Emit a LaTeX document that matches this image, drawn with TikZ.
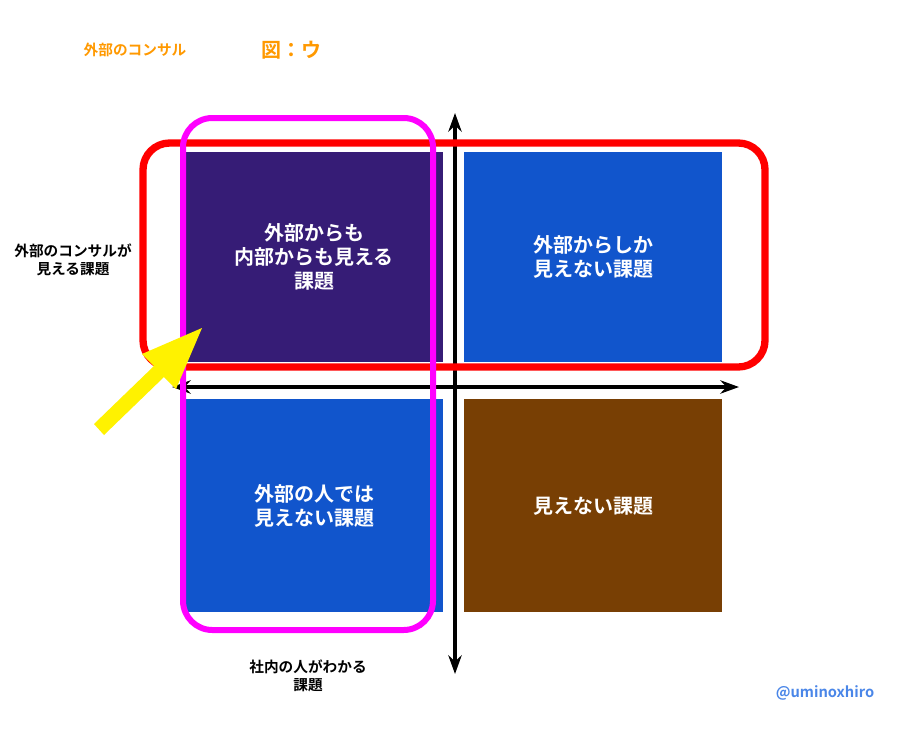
\documentclass[tikz,border=0pt]{standalone}
\usepackage{fontspec}
\setmainfont{Noto Sans CJK JP}[BoldFont={Noto Sans CJK JP Bold}]
\usetikzlibrary{arrows.meta}
\definecolor{dpurple}{HTML}{361C76}
\definecolor{qblue}{HTML}{1155CC}
\definecolor{qbrown}{HTML}{783F04}
\definecolor{qorange}{HTML}{FF9900}
\definecolor{qlink}{HTML}{4A86E8}
\definecolor{qmag}{HTML}{FF00FF}
\definecolor{qred}{HTML}{FF0000}
\tikzset{
 quad/.style={minimum width=258*0.75pt, minimum height=210*0.75pt, inner sep=0pt, anchor=north west, text=white, font=\bfseries\fontsize{15}{18}\selectfont, align=center},
 lbl/.style={font=\bfseries\fontsize{11}{13}\selectfont, align=center},
 axis/.style={line width=2.6pt}
}
\begin{document}
\begin{tikzpicture}[x=0.75pt,y=-0.75pt]
\useasboundingbox (0,0) rectangle (920,735);
\fill[white] (0,0) rectangle (920,735);
\node[quad, fill=dpurple] (tl) at (185,152) {外部からも\\内部からも見える\\課題};
\node[quad, fill=qblue] (tr) at (464,152) {外部からしか\\見えない課題};
\node[quad, fill=qblue, minimum height=213*0.75pt] (bl) at (185,399) {外部の人では\\見えない課題};
\node[quad, fill=qbrown, minimum height=213*0.75pt] (br) at (464,399) {見えない課題};
\coordinate (vt) at (455,113); \coordinate (vb) at (455,674);
\coordinate (hl) at (172,387); \coordinate (hr) at (739,387);
\draw[axis, {Stealth[length=14pt,width=10pt]}-{Stealth[length=14pt,width=10pt]}] (vb) -- (vt);
\draw[axis, {Stealth[length=14pt,width=10pt]}-{Stealth[length=14pt,width=10pt]}] (hl) -- (hr);
\draw[qred, line width=5.5pt, rounded corners=20pt] (143,143) rectangle (765,367);
\draw[qmag, line width=4.5pt, rounded corners=22pt] (183,118) rectangle (433,630);
\fill[yellow] (94,424) -- (154,366) -- (142,354) -- (202,328) -- (176,389) -- (164,377) -- (104,435) -- cycle;
\node[font=\bfseries\fontsize{11}{13}\selectfont, text=qorange] (t1) at (135,50) {外部のコンサル};
\node[font=\bfseries\fontsize{15}{18}\selectfont, text=qorange] (t2) at (291,50) {図：ウ};
\node[lbl] (lab1) at (73,260) {外部のコンサルが\\見える課題};
\node[lbl] (lab2) at (308,676) {社内の人がわかる\\課題};
\node[font=\bfseries\fontsize{11}{13}\selectfont, text=qlink] (lnk) at (825,693) {@uminoxhiro};
\end{tikzpicture}
\end{document}
